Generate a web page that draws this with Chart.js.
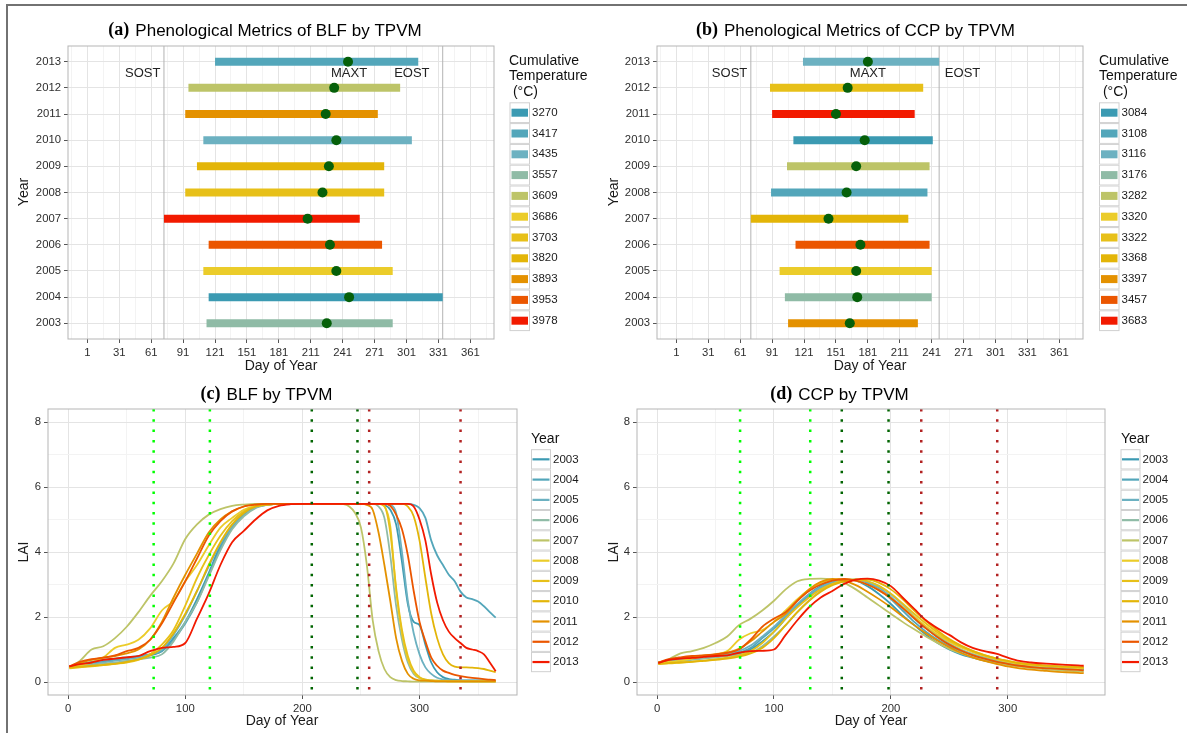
<!DOCTYPE html>
<html>
<head>
<meta charset="utf-8">
<title>TPVM phenology</title>
<script src="https://cdn.jsdelivr.net/npm/chart.js@4.4.1/dist/chart.umd.min.js"></script>
<style>
  body { margin: 0; background: #fff; }
  #page { position: relative; width: 1187px; height: 733px; overflow: hidden; background: #fff; }
  #frame { position: absolute; left: 6px; top: 4px; width: 1200px; height: 760px;
           border-top: 2px solid #727272; border-left: 2px solid #727272; }
  canvas { position: absolute; left: 0; top: 0; }
</style>
</head>
<body>
<div id="page">
  <div id="frame"></div>
  <canvas id="blfMetrics" width="1187" height="733"></canvas>
  <canvas id="ccpMetrics" width="1187" height="733"></canvas>
  <canvas id="blfCurves" width="1187" height="733"></canvas>
  <canvas id="ccpCurves" width="1187" height="733"></canvas>
</div>
<script>
const SANS = '"Liberation Sans", Arial, sans-serif';
const SERIF = '"Liberation Serif", "Times New Roman", serif';

// ---------------- data ----------------
const years = [2003, 2004, 2005, 2006, 2007, 2008, 2009, 2010, 2011, 2012, 2013];
const palette = ['#3B9AB2', '#53A6BA', '#6CB1C1', '#8FBBA6', '#BDC468', '#EBCC2A',
                 '#E7C019', '#E3B508', '#E49100', '#EB5600', '#F21A00'];

// BLF: cumulative temperature levels (legend order) and each year's level, 2003..2013
const blfTempLevels = [3270, 3417, 3435, 3557, 3609, 3686, 3703, 3820, 3893, 3953, 3978];
const blfYearTemp = [3557, 3270, 3686, 3953, 3978, 3703, 3820, 3435, 3893, 3609, 3417];
const blfSos  = [113, 115, 110, 115, 73, 93, 104, 110, 93, 96, 121];
const blfMaxt = [226, 247, 235, 229, 208, 222, 228, 235, 225, 233, 246];
const blfEos  = [288, 335, 288, 278, 257, 280, 280, 306, 274, 295, 312];

// CCP
const ccpTempLevels = [3084, 3108, 3116, 3176, 3282, 3320, 3322, 3368, 3397, 3457, 3683];
const ccpYearTemp = [3397, 3176, 3320, 3457, 3368, 3108, 3282, 3084, 3683, 3322, 3116];
const ccpSos  = [106, 103, 98, 113, 71, 90, 105, 111, 91, 89, 120];
const ccpMaxt = [164, 171, 170, 174, 144, 161, 170, 178, 151, 162, 181];
const ccpEos  = [228, 241, 241, 239, 219, 237, 239, 242, 225, 233, 248];

// LAI curves, one row per year (2003..2013) on the day grid
const blfDays = [1, 10, 20, 30, 40, 50, 60, 70, 80, 90, 100, 110, 120, 130, 140, 150, 160, 170, 180,
                 190, 200, 210, 220, 230, 235, 240, 245, 250, 255, 260, 265,
                 270, 275, 280, 285, 290, 295, 300, 305, 310, 315, 320, 325, 330, 335, 340, 345, 350, 355, 360, 365];
const blfLai = [
  [0.48,0.52,0.58,0.62,0.68,0.72,0.78,0.82,0.95,1.35,1.85,2.55,3.35,4.2,4.8,5.2,5.38,5.45,5.48,
   5.48,5.48,5.48,5.48,5.48,5.48,5.48,5.48,5.48,5.48,5.48,5.48,
   5.45,5.3,4.85,3.7,2.4,1.85,1.75,1.15,0.6,0.3,0.15,0.09,0.07,0.05,0.05,0.05,0.05,0.05,0.04,0.04],
  [0.47,0.55,0.62,0.68,0.72,0.76,0.8,0.85,0.95,1.3,1.8,2.45,3.3,4.1,4.75,5.15,5.38,5.46,5.48,
   5.48,5.48,5.48,5.48,5.48,5.48,5.48,5.48,5.48,5.48,5.48,5.48,
   5.48,5.48,5.48,5.48,5.48,5.45,5.35,5.05,4.35,3.9,3.6,3.3,3.1,2.78,2.6,2.55,2.48,2.33,2.15,1.98],
  [0.45,0.5,0.55,0.6,0.66,0.7,0.75,0.85,1.0,1.45,2.05,2.8,3.55,4.25,4.8,5.2,5.4,5.46,5.48,
   5.48,5.48,5.48,5.48,5.48,5.48,5.48,5.48,5.48,5.48,5.48,5.48,
   5.48,5.45,5.2,4.0,2.5,1.5,0.85,0.45,0.25,0.13,0.08,0.06,0.05,0.05,0.04,0.04,0.04,0.03,0.03,0.03],
  [0.47,0.5,0.53,0.57,0.6,0.65,0.7,0.75,0.85,1.25,1.85,2.45,3.25,4.05,4.7,5.1,5.35,5.45,5.48,
   5.48,5.48,5.48,5.48,5.48,5.48,5.48,5.48,5.48,5.48,5.48,5.4,
   5.05,3.9,2.35,1.3,0.6,0.25,0.12,0.07,0.05,0.04,0.04,0.03,0.03,0.03,0.02,0.02,0.02,0.02,0.02,0.02],
  [0.45,0.65,1.0,1.1,1.35,1.7,2.15,2.65,3.1,3.65,4.4,4.85,5.15,5.32,5.42,5.46,5.48,5.48,5.48,
   5.48,5.48,5.48,5.48,5.48,5.47,5.4,5.2,4.75,3.6,1.9,0.95,
   0.4,0.15,0.06,0.03,0.02,0.01,0.01,0.01,0.01,0.01,0.01,0.01,0.01,0.01,0.01,0.01,0.01,0.01,0.01,0.01],
  [0.45,0.5,0.6,0.75,1.05,1.15,1.3,1.65,2.2,2.5,3.1,3.6,4.2,4.75,5.05,5.3,5.42,5.46,5.48,
   5.48,5.48,5.48,5.48,5.48,5.48,5.48,5.48,5.48,5.48,5.48,5.48,
   5.4,4.8,2.8,1.5,0.7,0.3,0.12,0.06,0.04,0.03,0.03,0.02,0.02,0.02,0.02,0.02,0.02,0.02,0.02,0.02],
  [0.42,0.45,0.48,0.52,0.56,0.6,0.68,0.85,1.15,1.6,2.35,3.2,3.9,4.5,4.95,5.25,5.4,5.46,5.48,
   5.48,5.48,5.48,5.48,5.48,5.48,5.48,5.48,5.48,5.48,5.48,5.48,
   5.42,4.6,2.9,1.6,0.8,0.35,0.15,0.07,0.05,0.04,0.03,0.02,0.02,0.02,0.02,0.02,0.02,0.02,0.02,0.02],
  [0.45,0.47,0.5,0.53,0.56,0.62,0.7,0.82,1.05,1.5,2.1,2.8,3.6,4.3,4.85,5.2,5.4,5.46,5.48,
   5.48,5.48,5.48,5.48,5.48,5.48,5.48,5.48,5.48,5.48,5.48,5.48,
   5.48,5.48,5.48,5.48,5.4,5.1,4.35,3.2,2.1,1.35,0.85,0.58,0.47,0.45,0.45,0.44,0.43,0.4,0.35,0.3],
  [0.48,0.58,0.68,0.75,0.8,0.88,1.0,1.3,1.85,2.6,3.3,3.95,4.6,5.0,5.25,5.4,5.46,5.48,5.48,
   5.48,5.48,5.48,5.48,5.48,5.48,5.48,5.48,5.48,5.45,5.3,4.6,
   3.6,2.5,1.35,0.65,0.25,0.1,0.05,0.04,0.03,0.02,0.02,0.02,0.02,0.02,0.02,0.02,0.02,0.02,0.02,0.02],
  [0.48,0.62,0.7,0.75,0.82,0.95,1.05,1.3,1.8,2.45,3.1,3.8,4.5,4.95,5.25,5.4,5.46,5.48,5.48,
   5.48,5.48,5.48,5.48,5.48,5.48,5.48,5.48,5.48,5.48,5.48,5.48,
   5.48,5.42,5.15,4.7,3.9,2.8,1.85,1.25,0.75,0.5,0.35,0.28,0.22,0.18,0.15,0.13,0.11,0.09,0.07,0.06],
  [0.48,0.55,0.6,0.68,0.72,0.76,0.8,0.95,1.05,1.08,1.2,1.95,2.72,3.6,4.3,4.65,5.0,5.28,5.42,
   5.47,5.48,5.48,5.48,5.48,5.48,5.48,5.48,5.48,5.48,5.48,5.48,
   5.48,5.48,5.48,5.48,5.48,5.4,5.0,4.35,3.3,2.45,1.9,1.55,1.35,1.2,1.05,1.0,0.95,0.85,0.6,0.33]
];

const ccpDays = [1, 10, 20, 30, 40, 50, 60, 70, 80, 90, 100, 110, 120, 130, 140, 150, 160, 170, 180, 190,
                 200, 210, 220, 230, 240, 250, 260, 270, 280, 290, 300, 310, 320, 330, 340, 350, 360, 365];
const ccpLai = [
  [0.6,0.65,0.7,0.74,0.78,0.8,0.82,0.88,1.0,1.25, 1.55,1.95,2.35,2.7,2.95,3.1,3.15,3.12,2.95,2.7,
   2.4,2.05,1.75,1.45,1.2,1.0,0.85,0.75,0.66,0.6, 0.55,0.5,0.48,0.45,0.43,0.41,0.39,0.38],
  [0.58,0.62,0.68,0.72,0.75,0.78,0.82,0.9,1.05,1.35, 1.65,2.0,2.35,2.65,2.9,3.05,3.13,3.15,3.05,2.85,
   2.55,2.2,1.85,1.55,1.3,1.1,0.95,0.82,0.72,0.64, 0.57,0.52,0.48,0.46,0.44,0.42,0.41,0.4],
  [0.6,0.64,0.68,0.72,0.75,0.8,0.86,0.95,1.12,1.4, 1.7,2.05,2.4,2.7,2.92,3.08,3.14,3.15,3.08,2.9,
   2.62,2.3,1.95,1.65,1.38,1.15,0.98,0.85,0.75,0.67, 0.6,0.55,0.52,0.5,0.48,0.46,0.45,0.44],
  [0.58,0.6,0.64,0.68,0.72,0.76,0.8,0.84,0.9,1.1, 1.4,1.75,2.15,2.5,2.8,3.0,3.1,3.15,3.1,2.95,
   2.7,2.38,2.02,1.7,1.42,1.18,1.0,0.86,0.75,0.67, 0.6,0.54,0.5,0.47,0.45,0.43,0.41,0.4],
  [0.58,0.7,0.88,0.95,1.05,1.2,1.4,1.75,1.95,2.2, 2.5,2.85,3.1,3.17,3.18,3.15,3.05,2.85,2.6,2.35,
   2.1,1.85,1.62,1.4,1.2,1.02,0.88,0.76,0.66,0.58, 0.52,0.47,0.43,0.4,0.37,0.35,0.33,0.32],
  [0.6,0.62,0.66,0.72,0.78,0.85,0.95,1.3,1.5,1.6, 1.85,2.2,2.55,2.85,3.05,3.15,3.17,3.12,3.0,2.82,
   2.58,2.3,2.0,1.72,1.46,1.24,1.06,0.92,0.8,0.7, 0.62,0.56,0.52,0.49,0.47,0.45,0.43,0.42],
  [0.55,0.57,0.6,0.63,0.66,0.7,0.75,0.82,0.95,1.2, 1.55,1.95,2.3,2.6,2.85,3.02,3.12,3.16,3.1,2.95,
   2.72,2.42,2.1,1.8,1.52,1.28,1.1,0.95,0.83,0.73, 0.65,0.59,0.54,0.51,0.49,0.47,0.46,0.45],
  [0.56,0.58,0.6,0.62,0.65,0.68,0.72,0.78,0.88,1.05, 1.35,1.75,2.15,2.5,2.78,2.98,3.1,3.15,3.15,3.05,
   2.85,2.55,2.2,1.88,1.58,1.32,1.12,0.96,0.83,0.73, 0.65,0.58,0.54,0.51,0.49,0.47,0.46,0.45],
  [0.6,0.68,0.74,0.78,0.82,0.85,0.9,1.02,1.25,1.55, 1.85,2.1,2.5,2.85,3.08,3.17,3.12,2.98,2.78,2.55,
   2.3,2.02,1.75,1.5,1.27,1.07,0.9,0.76,0.65,0.56, 0.48,0.42,0.38,0.35,0.32,0.3,0.28,0.27],
  [0.6,0.7,0.76,0.8,0.82,0.85,0.9,1.0,1.3,1.7, 1.95,2.15,2.5,2.8,3.0,3.12,3.17,3.12,3.0,2.82,
   2.58,2.28,1.96,1.65,1.38,1.15,0.97,0.83,0.72,0.63, 0.56,0.5,0.46,0.43,0.41,0.39,0.37,0.36],
  [0.58,0.68,0.72,0.74,0.77,0.8,0.82,0.9,0.95,0.96, 1.0,1.45,1.9,2.3,2.6,2.8,3.02,3.15,3.18,3.12,
   2.95,2.6,2.25,1.9,1.65,1.45,1.22,1.05,0.95,0.87, 0.75,0.65,0.6,0.57,0.55,0.53,0.51,0.5]
];

// CCP guide days (SOS, MAX, EOS ranges)
const ccpSosRange = [71, 131];
const ccpMaxRange = [158, 198];
const ccpEosRange = [226, 291];

// axis breaks
const doyMajor = [1, 31, 61, 91, 121, 151, 181, 211, 241, 271, 301, 331, 361];
const doyMinor = [-14, 16, 46, 76, 106, 136, 166, 196, 226, 256, 286, 316, 346, 376];
const dayMajor = [0, 100, 200, 300];
const dayMinor = [50, 150, 250, 350];
const laiMajor = [0, 2, 4, 6, 8];
const laiMinor = [1, 3, 5, 7];

// ---------------- helpers ----------------
Chart.defaults.font.family = SANS;
Chart.defaults.animation = false;
Chart.defaults.events = [];
Chart.defaults.plugins.legend.display = false;
Chart.defaults.plugins.tooltip.enabled = false;

function axis(min, max, major, minor, fit) {
  const all = major.concat(minor).filter(v => v >= min && v <= max).sort((p, q) => p - q);
  const isMajor = v => major.includes(v);
  return {
    type: 'linear', min, max,
    afterBuildTicks: s => { s.ticks = all.map(v => ({ value: v })); },
    afterFit: fit,
    ticks: {
      autoSkip: false, maxRotation: 0, padding: 3, color: '#2e2e2e',
      font: { size: 11.3 },
      callback: v => isMajor(v) ? String(v) : ''
    },
    grid: {
      color: c => (c.tick && isMajor(c.tick.value)) ? '#e4e4e4' : '#f3f3f3',
      tickColor: c => (c.tick && isMajor(c.tick.value)) ? '#555' : 'rgba(0,0,0,0)',
      tickLength: 4, lineWidth: 1
    },
    border: { display: false }
  };
}

function padFor(area, yW, xH) {
  return { left: area.l - yW, top: area.t, right: 1187 - area.r, bottom: 733 - area.b - xH };
}

function drawRules(chart, rules) {
  const { ctx, chartArea: a, scales: { x } } = chart;
  rules.forEach(r => {
    const px = x.getPixelForValue(r.value);
    ctx.save();
    ctx.strokeStyle = r.color;
    ctx.lineWidth = r.width;
    if (r.dash) ctx.setLineDash(r.dash);
    ctx.beginPath();
    ctx.moveTo(px, a.top);
    ctx.lineTo(px, a.bottom);
    ctx.stroke();
    ctx.restore();
  });
}

function drawLegend(ctx, lg) {
  ctx.textAlign = 'left';
  ctx.textBaseline = 'middle';
  ctx.fillStyle = '#111';
  ctx.font = '14px ' + SANS;
  lg.title.forEach((t, i) => ctx.fillText(t, lg.titleX, lg.titleY + i * 15.6));
  lg.labels.forEach((lab, i) => {
    const top = lg.top + i * lg.h, cy = top + lg.h / 2;
    ctx.fillStyle = '#fff';
    ctx.fillRect(lg.x, top, lg.w, lg.h);
    ctx.strokeStyle = '#d0d0d0';
    ctx.lineWidth = 1;
    ctx.strokeRect(lg.x + 0.5, top + 0.5, lg.w - 1, lg.h - 1);
    if (lg.kind === 'fill') {
      ctx.fillStyle = lg.colors[i];
      ctx.fillRect(lg.x + 2, cy - 4, lg.w - 4, 8);
    } else {
      ctx.strokeStyle = lg.colors[i];
      ctx.lineWidth = 2.2;
      ctx.beginPath();
      ctx.moveTo(lg.x + 1.5, cy);
      ctx.lineTo(lg.x + lg.w - 1.5, cy);
      ctx.stroke();
    }
    ctx.fillStyle = '#1a1a1a';
    ctx.font = '11.5px ' + SANS;
    ctx.fillText(String(lab), lg.x + lg.w + 2, cy);
  });
}

function makeDeco(cfg) {
  return {
    id: 'deco',
    beforeDatasetsDraw(chart) { drawRules(chart, cfg.rules.filter(r => !r.front)); },
    afterDatasetsDraw(chart) {
      drawRules(chart, cfg.rules.filter(r => r.front));
      const { ctx, chartArea: a } = chart;
      ctx.save();
      ctx.strokeStyle = '#b5b5b5';
      ctx.lineWidth = 1;
      ctx.strokeRect(a.left, a.top, a.right - a.left, a.bottom - a.top);
      ctx.restore();
    },
    afterDraw(chart) {
      const { ctx, scales: { x, y } } = chart;
      ctx.save();
      // panel title: serif tag + sans text
      const t = cfg.title;
      ctx.textBaseline = 'middle';
      ctx.textAlign = 'left';
      ctx.font = 'bold 18px ' + SERIF;
      const wTag = ctx.measureText(t.tag).width;
      ctx.font = '17px ' + SANS;
      const wText = ctx.measureText(t.text).width;
      let sx = t.cx - (wTag + 6 + wText) / 2;
      ctx.fillStyle = '#000';
      ctx.font = 'bold 18px ' + SERIF;
      ctx.fillText(t.tag, sx, t.y - 1);
      ctx.font = '17px ' + SANS;
      ctx.fillText(t.text, sx + wTag + 6, t.y);

      // axis titles
      ctx.fillStyle = '#1a1a1a';
      ctx.font = '14px ' + SANS;
      ctx.textAlign = 'center';
      ctx.fillText(cfg.xTitle.text, cfg.xTitle.x, cfg.xTitle.y);
      ctx.save();
      ctx.translate(cfg.yTitle.x, cfg.yTitle.y);
      ctx.rotate(-Math.PI / 2);
      ctx.fillText(cfg.yTitle.text, 0, 0);
      ctx.restore();

      // SOST / MAXT / EOST labels
      ctx.font = '13px ' + SANS;
      ctx.fillStyle = '#222';
      (cfg.notes || []).forEach(n => ctx.fillText(n.text, x.getPixelForValue(n.x), y.getPixelForValue(n.y)));

      drawLegend(ctx, cfg.legend);
      ctx.restore();
    }
  };
}

// ---------------- phenological metric panels ----------------
function metricsChart(id, area, sos, maxt, eos, yearTemp, levels, cfg) {
  const bars = years.map((yr, i) => ({
    type: 'line',
    data: [{ x: sos[i], y: yr }, { x: eos[i], y: yr }],
    borderColor: palette[levels.indexOf(yearTemp[i])],
    borderWidth: 8, borderCapStyle: 'butt',
    pointRadius: 0, showLine: true, order: 2
  }));
  const dots = {
    type: 'scatter',
    data: years.map((yr, i) => ({ x: maxt[i], y: yr })),
    pointRadius: 5, pointBackgroundColor: '#06600a', pointBorderWidth: 0, order: 1
  };
  cfg.rules = [
    { value: Math.min(...sos), color: '#b3b3b3', width: 1 },
    { value: Math.max(...eos), color: '#b3b3b3', width: 1 }
  ];
  cfg.legend.labels = levels;
  cfg.legend.colors = palette;
  return new Chart(document.getElementById(id), {
    type: 'scatter',
    data: { datasets: [dots].concat(bars) },
    options: {
      responsive: false, devicePixelRatio: 1,
      layout: { padding: padFor(area, 40, 30) },
      scales: {
        x: axis(-17.2, 383.2, doyMajor, doyMinor, s => { s.height = 30; }),
        y: axis(2002.4, 2013.6, years, [], s => { s.width = 40; })
      }
    },
    plugins: [makeDeco(cfg)]
  });
}

metricsChart('blfMetrics', { l: 68, r: 494, t: 46, b: 339 }, blfSos, blfMaxt, blfEos, blfYearTemp, blfTempLevels, {
  title: { tag: '(a)', text: 'Phenological Metrics of BLF by TPVM', cx: 265, y: 31 },
  xTitle: { text: 'Day of Year', x: 281, y: 366 },
  yTitle: { text: 'Year', x: 24, y: 192 },
  notes: [{ text: 'SOST', x: 53, y: 2012.55 }, { text: 'MAXT', x: 247, y: 2012.55 }, { text: 'EOST', x: 306, y: 2012.55 }],
  legend: { kind: 'fill', x: 509.5, top: 102.3, w: 20.5, h: 20.8,
            title: ['Cumulative', 'Temperature', ' (\u00b0C)'], titleX: 509, titleY: 61 }
});

metricsChart('ccpMetrics', { l: 657, r: 1083, t: 46, b: 339 }, ccpSos, ccpMaxt, ccpEos, ccpYearTemp, ccpTempLevels, {
  title: { tag: '(b)', text: 'Phenological Metrics of CCP by TPVM', cx: 855.5, y: 31 },
  xTitle: { text: 'Day of Year', x: 870, y: 366 },
  yTitle: { text: 'Year', x: 614, y: 192 },
  notes: [{ text: 'SOST', x: 51, y: 2012.55 }, { text: 'MAXT', x: 181, y: 2012.55 }, { text: 'EOST', x: 270, y: 2012.55 }],
  legend: { kind: 'fill', x: 1099, top: 102.3, w: 20.5, h: 20.8,
            title: ['Cumulative', 'Temperature', ' (\u00b0C)'], titleX: 1099, titleY: 61 }
});

// ---------------- LAI curve panels ----------------
function curveChart(id, area, days, rows, guides, cfg) {
  const sets = rows.map((row, i) => ({
    label: String(years[i]),
    data: row.map((v, k) => ({ x: days[k], y: v })),
    borderColor: palette[i], borderWidth: 1.8,
    pointRadius: 0, cubicInterpolationMode: 'monotone', fill: false,
    order: rows.length - i
  }));
  const dot = [2.5, 7.8];
  cfg.rules = [
    { value: guides.sos[0], color: '#00ff00', width: 2.5, dash: dot, front: true },
    { value: guides.sos[1], color: '#00ff00', width: 2.5, dash: dot, front: true },
    { value: guides.max[0], color: '#006400', width: 2.5, dash: dot, front: true },
    { value: guides.max[1], color: '#006400', width: 2.5, dash: dot, front: true },
    { value: guides.eos[0], color: '#b22222', width: 2.5, dash: dot, front: true },
    { value: guides.eos[1], color: '#b22222', width: 2.5, dash: dot, front: true }
  ];
  cfg.legend.labels = years;
  cfg.legend.colors = palette;
  return new Chart(document.getElementById(id), {
    type: 'line',
    data: { datasets: sets },
    options: {
      responsive: false, devicePixelRatio: 1,
      layout: { padding: padFor(area, 30, 30) },
      scales: {
        x: axis(-17.2, 383.2, dayMajor, dayMinor, s => { s.height = 30; }),
        y: axis(-0.4, 8.4, laiMajor, laiMinor, s => { s.width = 30; })
      }
    },
    plugins: [makeDeco(cfg)]
  });
}

curveChart('blfCurves', { l: 48, r: 517, t: 409, b: 695 }, blfDays, blfLai, {
  sos: [Math.min(...blfSos), Math.max(...blfSos)],
  max: [Math.min(...blfMaxt), Math.max(...blfMaxt)],
  eos: [Math.min(...blfEos), Math.max(...blfEos)]
}, {
  title: { tag: '(c)', text: 'BLF by TPVM', cx: 266.5, y: 395 },
  xTitle: { text: 'Day of Year', x: 282, y: 721 },
  yTitle: { text: 'LAI', x: 24, y: 552 },
  legend: { kind: 'line', x: 531, top: 449.2, w: 20, h: 20.27, title: ['Year'], titleX: 531, titleY: 439 }
});

curveChart('ccpCurves', { l: 637, r: 1105, t: 409, b: 695 }, ccpDays, ccpLai, {
  sos: ccpSosRange, max: ccpMaxRange, eos: ccpEosRange
}, {
  title: { tag: '(d)', text: 'CCP by TPVM', cx: 839.5, y: 395 },
  xTitle: { text: 'Day of Year', x: 871, y: 721 },
  yTitle: { text: 'LAI', x: 614, y: 552 },
  legend: { kind: 'line', x: 1120.5, top: 449.2, w: 20, h: 20.27, title: ['Year'], titleX: 1121, titleY: 439 }
});
</script>
</body>
</html>
